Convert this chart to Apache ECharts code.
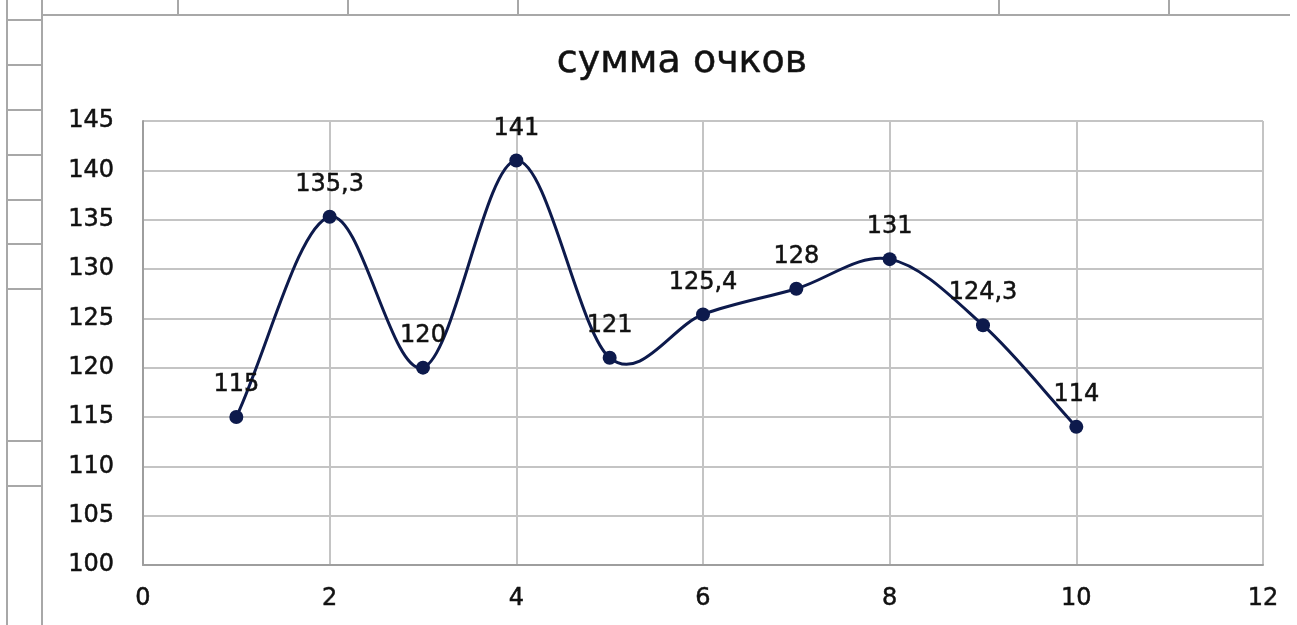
<!DOCTYPE html>
<html>
<head>
<meta charset="utf-8">
<script src="https://cdn.jsdelivr.net/npm/echarts@6/dist/echarts.min.js"></script>
<style>
html,body{margin:0;padding:0;background:#fff;}
#chart{width:1297px;height:625px;}
</style>
</head>
<body>
<div id="chart"></div>
<script>
// ---- data ----
const titleText = 'сумма очков';
const xValues = [1, 2, 3, 4, 5, 6, 7, 8, 9, 10];
const scores = [115, 135.3, 120, 141, 121, 125.4, 128, 131, 124.3, 114];
const xTicks = [0, 2, 4, 6, 8, 10, 12];
const yTicks = [100, 105, 110, 115, 120, 125, 130, 135, 140, 145];

// spreadsheet background decoration (cell grid around the chart)
const sheetLineColor = '#a8a8a8';
const sheetRowYs = [20, 65, 110, 155, 200, 244, 289, 441, 486];
const sheetColXs = [178, 348, 518, 999, 1169];

const graphics = [];
graphics.push({type:'line', shape:{x1:7,y1:0,x2:7,y2:625}, style:{stroke:sheetLineColor,lineWidth:2}, z:-10});
graphics.push({type:'line', shape:{x1:42,y1:0,x2:42,y2:625}, style:{stroke:sheetLineColor,lineWidth:2}, z:-10});
sheetRowYs.forEach(y => graphics.push({type:'line', shape:{x1:7,y1:y,x2:42,y2:y}, style:{stroke:sheetLineColor,lineWidth:2}, z:-10}));
sheetColXs.forEach(x => graphics.push({type:'line', shape:{x1:x,y1:0,x2:x,y2:15}, style:{stroke:sheetLineColor,lineWidth:2}, z:-10}));
graphics.push({type:'line', shape:{x1:42,y1:15,x2:1290,y2:15}, style:{stroke:sheetLineColor,lineWidth:2}, z:-10});

const lineColor = '#0d1a4c';
const textColor = '#111';
const fontFam = '"DejaVu Sans", Verdana, sans-serif';

// Excel-style smoothed curve (Catmull-Rom bezier) drawn through the library's coordinate system
function renderCurve(params, api) {
  const pts = xValues.map((x, i) => api.coord([x, scores[i]]));
  const n = pts.length;
  const children = [];
  const t = 1 / 6;
  for (let i = 0; i < n - 1; i++) {
    const p0 = pts[i], p1 = pts[i + 1];
    const pPrev = i > 0 ? pts[i - 1] : p0;
    const pNext = i + 2 < n ? pts[i + 2] : p1;
    const f0 = i > 0 ? t : t * 2;
    const f1 = i + 2 < n ? t : t * 2;
    const c1 = [p0[0] + (p1[0] - pPrev[0]) * f0, p0[1] + (p1[1] - pPrev[1]) * f0];
    const c2 = [p1[0] - (pNext[0] - p0[0]) * f1, p1[1] - (pNext[1] - p0[1]) * f1];
    children.push({
      type: 'bezierCurve',
      shape: {x1: p0[0], y1: p0[1], cpx1: c1[0], cpy1: c1[1], cpx2: c2[0], cpy2: c2[1], x2: p1[0], y2: p1[1]},
      style: {stroke: lineColor, lineWidth: 3, fill: null}
    });
  }
  return {type: 'group', children: children};
}

const txt = (size) => ({fontFamily: fontFam, fontSize: size, color: textColor, textBorderColor: textColor, textBorderWidth: 0.5});

const chart = echarts.init(document.getElementById('chart'), null, {renderer:'canvas'});
chart.setOption({
  animation: false,
  backgroundColor: '#fff',
  graphic: graphics,
  title: {
    text: titleText,
    left: 677,
    top: 38,
    textAlign: 'center',
    textStyle: Object.assign(txt(38), {fontWeight: 'normal'})
  },
  grid: {left: 143, right: 34, top: 121, bottom: 60, containLabel: false},
  xAxis: {
    type: 'value',
    min: xTicks[0],
    max: xTicks[xTicks.length - 1],
    interval: xTicks[1] - xTicks[0],
    axisLine: {show: true, onZero: false, lineStyle: {color: '#9e9e9e', width: 2}},
    axisTick: {show: false},
    axisLabel: Object.assign({margin: 22}, txt(24)),
    splitLine: {show: true, lineStyle: {color: '#c4c4c4', width: 2}}
  },
  yAxis: {
    type: 'value',
    min: yTicks[0],
    max: yTicks[yTicks.length - 1],
    interval: yTicks[1] - yTicks[0],
    axisLine: {show: true, lineStyle: {color: '#9e9e9e', width: 2}},
    axisTick: {show: false},
    axisLabel: Object.assign({margin: 29}, txt(24)),
    splitLine: {show: true, lineStyle: {color: '#c4c4c4', width: 2}}
  },
  series: [{
    type: 'custom',
    renderItem: renderCurve,
    data: [[xValues[0], scores[0]]],
    silent: true,
    z: 2
  }, {
    type: 'scatter',
    data: xValues.map((x, i) => [x, scores[i]]),
    symbol: 'circle',
    symbolSize: 14,
    itemStyle: {color: lineColor, opacity: 1},
    z: 3,
    label: Object.assign({
      show: true,
      position: 'top',
      distance: 13,
      formatter: p => String(p.value[1]).replace('.', ',')
    }, txt(24))
  }]
});
</script>
</body>
</html>
